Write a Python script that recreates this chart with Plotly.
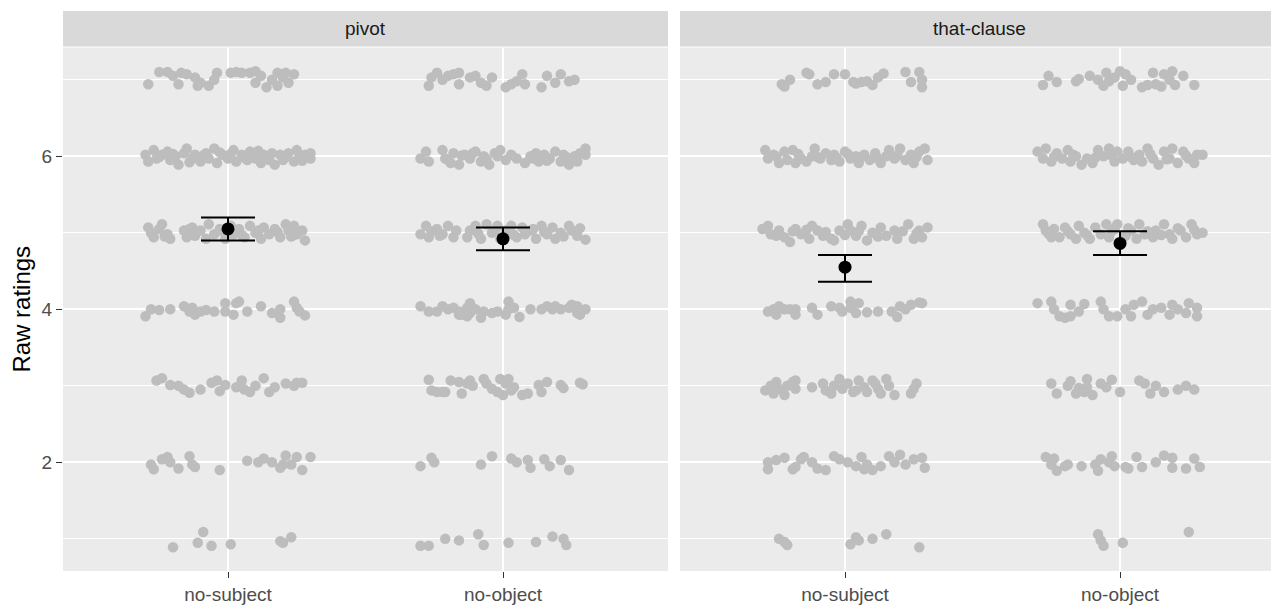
import plotly.graph_objects as go

# ---------------- data ----------------
FACETS = ["pivot", "that-clause"]
CONDITIONS = ["no-subject", "no-object"]

# jittered raw ratings; dx = horizontal jitter offset from category centre,
# y = jittered rating. Sub-lists are rating levels 7,6,5,4,3,2,1.
pivot_nosubj_dx = [
    [-0.29,-0.25,-0.22,-0.20,-0.17,-0.18,-0.15,-0.12,-0.11,-0.10,-0.07,-0.05,-0.04,0.01,0.03,0.05,0.08,0.10,0.10,0.12,0.14,0.16,0.18,0.18,0.20,0.21,0.22,0.24],
    [-0.30,-0.29,-0.27,-0.26,-0.24,-0.22,-0.21,-0.19,-0.18,-0.16,-0.15,-0.13,-0.12,-0.10,-0.08,-0.07,-0.05,-0.04,-0.02,0.00,0.02,0.03,0.05,0.07,0.08,0.10,0.12,0.13,0.15,0.17,0.19,0.20,0.22,0.24,0.25,0.26,0.28,0.30,0.30,-0.25,-0.20,-0.14,-0.09,-0.03,0.01,0.06,0.11,0.16,0.21,0.27],
    [-0.29,-0.28,-0.27,-0.25,-0.24,-0.22,-0.21,-0.16,-0.15,-0.13,-0.12,-0.10,-0.08,-0.07,-0.05,-0.03,-0.01,0.01,0.02,0.04,0.06,0.08,0.10,0.12,0.13,0.15,0.17,0.19,0.21,0.22,0.24,0.25,0.27,0.28,-0.23,-0.14,-0.02,0.05,0.11,0.18,0.23],
    [-0.30,-0.28,-0.25,-0.21,-0.16,-0.13,-0.12,-0.10,-0.08,-0.05,-0.01,-0.01,0.02,0.04,0.07,0.12,0.16,0.19,0.19,0.24,0.25,0.26,0.28,-0.14,0.03],
    [-0.26,-0.24,-0.21,-0.18,-0.16,-0.14,-0.10,-0.06,-0.04,-0.03,-0.01,0.03,0.05,0.06,0.08,0.10,0.13,0.15,0.17,0.21,0.24,0.25,0.27],
    [-0.28,-0.27,-0.24,-0.22,-0.21,-0.18,-0.14,-0.13,-0.12,-0.03,0.07,0.11,0.13,0.16,0.19,0.20,0.21,0.23,0.25,0.27,0.30],
    [-0.20,-0.11,-0.09,-0.06,0.01,0.19,0.20,0.23],
]
pivot_nosubj_y = [
    [6.94,7.10,7.10,7.05,7.09,6.94,7.07,7.03,6.92,6.96,6.92,7.00,7.09,7.09,7.10,7.09,7.09,7.11,6.96,7.05,6.90,7.00,7.09,6.92,7.03,7.09,6.96,7.07],
    [6.02,5.93,6.08,5.97,6.02,6.06,5.95,6.00,5.89,6.04,6.10,5.97,6.02,5.93,6.04,5.97,6.10,5.91,6.02,5.97,6.08,5.93,6.02,5.95,6.06,5.97,5.91,6.02,5.95,5.89,6.02,5.95,6.04,5.93,6.08,6.00,6.02,6.04,5.97,5.99,6.03,5.92,6.01,6.05,6.03,5.98,6.07,6.04,5.99,5.94],
    [5.07,5.00,4.94,5.05,5.11,4.98,4.92,5.03,4.94,5.07,4.96,5.03,4.92,5.11,4.98,5.05,4.92,5.09,4.98,5.05,4.94,5.09,5.00,4.92,5.07,4.98,5.05,4.94,5.11,5.03,5.09,4.98,5.03,4.90,4.95,5.05,5.02,4.97,5.03,5.01,4.95],
    [3.91,4.00,3.99,4.00,4.04,4.02,3.93,3.97,3.99,3.97,4.08,3.97,3.93,4.10,3.97,4.04,3.95,4.00,3.89,4.10,4.02,3.97,3.92,3.97,4.08],
    [3.07,3.10,3.01,3.00,2.95,2.91,2.95,3.04,3.07,2.93,3.01,2.98,3.07,2.95,2.92,3.00,3.10,2.92,2.98,3.03,3.00,3.04,3.04],
    [1.97,1.91,2.04,2.07,2.00,1.92,2.08,1.97,1.94,1.90,2.02,2.00,2.05,2.00,1.93,1.97,2.09,1.97,2.07,1.90,2.07],
    [0.89,0.95,1.09,0.91,0.93,0.97,0.95,1.02],
]

pivot_noobj_dx = [
    [-0.27,-0.26,-0.24,-0.22,-0.20,-0.18,-0.16,-0.16,-0.12,-0.10,-0.08,-0.06,-0.04,0.01,0.03,0.05,0.07,0.08,0.14,0.16,0.19,0.21,0.24,0.26],
    [-0.30,-0.28,-0.27,-0.22,-0.21,-0.19,-0.18,-0.16,-0.14,-0.12,-0.10,-0.08,-0.07,-0.05,-0.03,-0.01,0.01,0.03,0.05,0.08,0.10,0.12,0.13,0.15,0.17,0.19,0.21,0.22,0.24,0.26,0.28,0.30,0.30,-0.20,-0.15,-0.11,-0.06,-0.02,0.11,0.16,0.23,0.27],
    [-0.30,-0.28,-0.27,-0.24,-0.22,-0.20,-0.18,-0.17,-0.13,-0.12,-0.10,-0.08,-0.06,-0.04,-0.02,-0.01,0.01,0.03,0.05,0.07,0.08,0.10,0.12,0.14,0.16,0.18,0.19,0.21,0.24,0.25,0.27,0.30,-0.26,-0.23,-0.09,-0.03,0.04,0.11,0.15,0.22,0.28],
    [-0.30,-0.27,-0.24,-0.22,-0.20,-0.18,-0.16,-0.15,-0.13,-0.12,-0.12,-0.10,-0.08,-0.07,-0.04,-0.02,0.01,0.02,0.02,0.04,0.06,0.10,0.14,0.16,0.18,0.19,0.21,0.24,0.25,0.27,0.28,0.30,-0.16,-0.13,0.27],
    [-0.27,-0.26,-0.24,-0.22,-0.21,-0.19,-0.16,-0.15,-0.13,-0.12,-0.11,-0.07,-0.06,-0.04,-0.02,-0.01,0.00,0.01,0.02,0.03,0.04,0.07,0.09,0.13,0.14,0.16,0.21,0.22,0.28,0.29],
    [-0.30,-0.26,-0.25,-0.08,-0.04,0.03,0.05,0.09,0.10,0.15,0.17,0.21,0.24],
    [-0.30,-0.27,-0.21,-0.16,-0.09,-0.07,0.02,0.12,0.18,0.22,0.23],
]
pivot_noobj_y = [
    [6.92,7.03,7.09,7.00,7.05,7.07,7.09,6.94,7.03,7.05,6.96,6.92,7.03,6.90,6.94,6.98,7.07,6.94,6.90,7.05,6.96,7.07,6.98,7.00],
    [5.97,6.06,5.93,6.08,5.97,5.91,6.04,5.89,6.02,5.97,6.06,5.93,6.00,5.89,6.04,6.08,5.95,6.02,5.97,5.91,6.00,6.04,5.93,6.02,5.97,6.06,5.93,6.02,5.89,6.00,6.04,6.10,6.02,5.95,6.01,6.04,5.96,6.00,5.97,5.94,5.99,5.93],
    [4.98,5.09,4.94,5.05,4.98,5.09,4.94,5.03,4.94,5.03,5.09,4.92,5.11,5.00,5.09,4.92,5.03,5.09,4.94,5.07,4.98,5.03,4.92,5.09,4.98,5.07,4.92,5.00,5.09,5.03,4.96,4.91,5.02,4.96,4.99,5.03,4.97,5.05,5.01,4.95,5.06],
    [4.04,3.97,3.97,4.04,4.00,4.02,3.97,3.93,4.02,3.95,4.08,4.00,3.89,3.97,3.95,3.97,3.93,4.10,4.00,4.02,3.90,4.00,4.00,4.04,4.00,4.04,4.00,4.02,4.06,4.04,3.93,4.00,3.93,3.91,3.95],
    [3.08,2.94,2.92,2.92,2.92,3.07,3.05,2.90,3.03,3.07,3.00,3.09,3.03,2.96,2.92,3.09,2.88,3.03,3.09,2.94,2.98,2.88,2.90,3.01,2.92,3.05,3.01,2.97,3.04,3.02],
    [1.95,2.06,2.00,1.97,2.08,2.05,2.00,2.03,1.93,2.04,1.95,2.03,1.90],
    [0.91,0.91,1.00,0.98,1.06,0.92,0.95,0.96,1.03,1.00,0.92],
]

that_nosubj_dx = [
    [-0.23,-0.22,-0.20,-0.14,-0.13,-0.10,-0.07,-0.04,0.00,0.03,0.04,0.06,0.08,0.10,0.12,0.14,0.22,0.24,0.27,0.28,0.28],
    [-0.29,-0.28,-0.26,-0.24,-0.22,-0.21,-0.19,-0.18,-0.16,-0.14,-0.12,-0.11,-0.09,-0.07,-0.05,-0.04,-0.02,0.00,0.02,0.04,0.05,0.07,0.09,0.11,0.13,0.15,0.16,0.18,0.20,0.22,0.24,0.25,0.27,0.29,0.30,-0.25,-0.17,-0.10,-0.03,0.01,0.06,0.12,0.19,0.26],
    [-0.30,-0.28,-0.27,-0.24,-0.22,-0.20,-0.18,-0.16,-0.13,-0.12,-0.10,-0.08,-0.05,-0.04,-0.02,0.01,0.02,0.04,0.06,0.08,0.10,0.13,0.15,0.18,0.19,0.23,0.25,0.27,0.28,0.30,-0.25,-0.19,-0.14,-0.07,0.00,0.05,0.12,0.21,0.26],
    [-0.28,-0.26,-0.24,-0.25,-0.22,-0.20,-0.18,-0.18,-0.12,-0.10,-0.05,-0.02,-0.01,0.02,0.02,0.04,0.05,0.08,0.12,0.17,0.19,0.20,0.22,0.24,0.27,0.28],
    [-0.29,-0.27,-0.26,-0.25,-0.24,-0.22,-0.21,-0.19,-0.18,-0.18,-0.12,-0.08,-0.07,-0.05,-0.04,-0.02,-0.01,0.01,0.03,0.04,0.05,0.07,0.08,0.10,0.11,0.12,0.13,0.15,0.16,0.18,0.24,0.25,0.26],
    [-0.28,-0.28,-0.25,-0.22,-0.19,-0.18,-0.16,-0.15,-0.12,-0.10,-0.07,-0.04,-0.02,0.01,0.04,0.06,0.07,0.08,0.10,0.13,0.16,0.18,0.20,0.22,0.25,0.28,0.29],
    [-0.24,-0.22,-0.21,0.02,0.04,0.05,0.10,0.15,0.27],
]
that_nosubj_y = [
    [6.94,6.91,7.00,7.09,7.07,6.94,6.97,7.07,7.07,6.97,6.95,6.97,6.98,6.93,7.03,7.08,7.10,6.97,7.10,6.90,7.00],
    [6.08,5.97,6.02,5.91,6.06,5.95,6.08,5.91,5.97,5.93,6.00,6.10,5.97,6.04,5.95,6.02,5.93,6.06,5.97,6.00,5.91,6.02,5.95,6.04,5.91,6.00,6.08,5.97,6.10,5.95,6.02,5.91,6.06,6.10,5.95,6.00,6.03,5.99,5.98,6.03,5.99,5.97,6.01,5.99],
    [5.05,5.09,4.98,5.03,4.94,4.88,5.05,4.98,4.92,5.09,5.03,4.96,4.92,4.90,5.03,5.11,5.03,4.96,5.09,4.90,5.00,5.07,4.96,5.03,4.92,5.11,4.92,5.03,4.94,5.07,4.96,5.02,5.04,5.01,4.97,5.02,4.95,5.02,4.99],
    [3.97,4.00,4.04,3.93,4.00,4.00,3.93,4.00,4.02,3.93,4.04,4.02,3.97,4.10,4.02,3.95,4.08,3.96,3.97,3.97,3.90,4.04,4.00,4.06,4.09,4.08],
    [2.94,3.00,2.90,3.05,2.96,2.88,3.00,3.05,2.96,3.07,2.98,3.03,2.94,2.90,3.00,3.09,2.96,3.03,2.92,2.94,3.07,2.98,2.92,3.07,3.03,2.96,2.90,3.09,3.00,2.88,2.90,2.96,3.03],
    [1.91,2.00,2.03,2.06,1.91,1.94,2.04,2.07,2.00,1.92,1.90,2.08,2.04,2.00,1.95,2.07,1.91,1.97,1.90,1.95,2.08,2.00,2.10,1.97,2.04,2.06,1.93],
    [1.00,0.96,0.92,0.93,1.02,0.98,1.00,1.06,0.89],
]

that_noobj_dx = [
    [-0.28,-0.26,-0.23,-0.16,-0.15,-0.11,-0.08,-0.06,-0.05,-0.04,-0.02,0.00,0.01,0.02,0.04,0.08,0.10,0.12,0.13,0.15,0.16,0.18,0.19,0.20,0.23,0.27],
    [-0.30,-0.28,-0.27,-0.25,-0.23,-0.21,-0.19,-0.18,-0.16,-0.14,-0.12,-0.10,-0.08,-0.06,-0.04,-0.02,-0.01,0.01,0.03,0.05,0.07,0.08,0.10,0.12,0.14,0.16,0.18,0.19,0.21,0.23,0.25,0.27,0.28,0.30,-0.24,-0.17,-0.09,-0.03,0.04,0.11,0.17,0.24],
    [-0.28,-0.27,-0.25,-0.24,-0.22,-0.20,-0.18,-0.16,-0.15,-0.13,-0.11,-0.09,-0.07,-0.05,-0.04,-0.02,-0.01,0.02,0.04,0.06,0.07,0.09,0.12,0.13,0.16,0.18,0.19,0.22,0.24,0.26,0.28,0.30,-0.26,-0.19,-0.12,-0.03,0.03,0.10,0.15,0.21,0.27],
    [-0.30,-0.25,-0.24,-0.22,-0.20,-0.18,-0.18,-0.15,-0.13,-0.07,-0.06,-0.04,-0.01,0.02,0.04,0.05,0.08,0.10,0.12,0.15,0.18,0.19,0.21,0.24,0.25,0.28,0.28],
    [-0.25,-0.23,-0.19,-0.18,-0.16,-0.15,-0.13,-0.12,-0.12,-0.10,-0.07,-0.05,-0.03,0.00,0.07,0.09,0.11,0.13,0.16,0.21,0.24,0.27],
    [-0.27,-0.24,-0.25,-0.23,-0.20,-0.19,-0.14,-0.09,-0.08,-0.07,-0.04,-0.03,-0.02,0.02,0.03,0.06,0.08,0.13,0.16,0.19,0.19,0.24,0.27,0.29],
    [-0.08,-0.07,-0.06,0.01,0.25],
]
that_noobj_y = [
    [6.93,7.05,6.97,6.98,7.01,7.05,7.00,6.92,7.09,6.98,7.03,7.11,6.92,7.07,7.00,6.90,6.93,7.09,6.94,6.91,7.07,7.00,7.11,6.93,7.05,6.93],
    [6.06,5.97,6.10,5.93,6.04,5.97,6.08,5.93,6.00,5.89,5.97,5.91,6.08,6.00,6.10,5.93,6.06,5.97,6.06,5.95,6.02,5.93,6.10,5.97,5.89,6.06,5.97,6.10,5.91,6.06,5.97,5.91,6.02,6.02,5.99,6.02,5.98,6.01,5.99,6.03,5.96,6.01],
    [5.11,5.03,4.94,5.05,4.94,5.07,4.98,4.92,5.09,5.00,4.92,5.07,4.98,5.11,4.94,5.05,5.11,4.96,5.03,4.92,5.11,4.98,4.94,5.03,5.11,4.98,4.92,5.03,4.94,5.11,4.98,5.00,4.99,5.02,4.97,5.02,5.06,5.02,4.97,5.06,5.04],
    [4.08,4.10,4.00,3.91,3.89,4.06,3.91,3.97,4.07,4.10,4.00,3.91,3.91,4.00,3.91,4.06,4.10,3.93,4.00,4.02,3.93,4.06,4.00,3.95,4.08,4.02,3.91],
    [3.03,2.90,3.00,3.06,2.90,2.97,2.92,3.09,2.98,2.88,3.03,2.98,3.08,2.92,3.07,3.03,2.90,3.00,2.92,2.95,3.00,2.95],
    [2.07,2.05,1.97,1.89,1.95,1.97,1.95,1.97,1.89,2.04,2.00,2.08,1.95,1.94,1.92,2.07,1.94,2.00,2.09,2.06,1.93,1.92,2.05,1.94],
    [1.06,0.98,0.91,0.95,1.09],
]

# condition means with confidence-interval bounds
pivot_mean = [5.05, 4.92]
pivot_upper = [5.20, 5.07]
pivot_lower = [4.90, 4.77]
that_mean = [4.55, 4.86]
that_upper = [4.71, 5.02]
that_lower = [4.36, 4.71]

Y_TICKS = [2, 4, 6]
Y_MINOR = [1, 3, 5, 7]

# ---------------- figure ----------------
FONT = "Liberation Sans, Arial, sans-serif"
POINT_COLOR = "#BDBDBD"

fig = go.Figure()

panels = [
    ("x", [(pivot_nosubj_dx, pivot_nosubj_y), (pivot_noobj_dx, pivot_noobj_y)],
     pivot_mean, pivot_upper, pivot_lower),
    ("x2", [(that_nosubj_dx, that_nosubj_y), (that_noobj_dx, that_noobj_y)],
     that_mean, that_upper, that_lower),
]

for xref, conds, means, upp, low in panels:
    for ci, (dx_levels, y_levels) in enumerate(conds):
        xs, ys = [], []
        for dxl, yl in zip(dx_levels, y_levels):
            for d, v in zip(dxl, yl):
                xs.append(ci + 1 + d)
                ys.append(v)
        fig.add_trace(go.Scatter(
            x=xs, y=ys, xaxis=xref, yaxis="y", mode="markers",
            marker=dict(color=POINT_COLOR, size=10.5, line=dict(width=0)),
            showlegend=False, hoverinfo="skip"))
    fig.add_trace(go.Scatter(
        x=[1, 2], y=means, xaxis=xref, yaxis="y", mode="markers",
        marker=dict(color="black", size=13),
        error_y=dict(type="data", symmetric=False,
                     array=[u - m for u, m in zip(upp, means)],
                     arrayminus=[m - l for m, l in zip(means, low)],
                     color="black", thickness=2, width=27),
        showlegend=False))

# figure is 1271x597; the page's 8px body margin places it at (8, 8)
W, H = 1271, 597
M_L, M_R, M_T, M_B = 55, 0, 3, 27
plot_h = H - M_T - M_B           # 567
PANEL_TOP = 530 / plot_h
STRIP_Y0 = 531 / plot_h
left_w = 605 / (W - M_L - M_R)
right_x0 = 617 / (W - M_L - M_R)

shapes = []
annotations = []
for xr, title in zip(["x", "x2"], FACETS):
    shapes.append(dict(type="rect", xref=f"{xr} domain", yref="y domain",
                       x0=0, x1=1, y0=0, y1=1, fillcolor="#EBEBEB",
                       line=dict(width=0), layer="below"))
    shapes.append(dict(type="rect", xref=f"{xr} domain", yref="paper",
                       x0=0, x1=1, y0=STRIP_Y0, y1=1, fillcolor="#D9D9D9",
                       line=dict(width=0), layer="below"))
    annotations.append(dict(text=title, xref=f"{xr} domain", yref="paper",
                            x=0.5, y=(STRIP_Y0 + 1) / 2, showarrow=False,
                            xanchor="center", yanchor="middle",
                            font=dict(family=FONT, size=19, color="#1A1A1A")))

xaxis_common = dict(
    tickmode="array", tickvals=[1, 2], ticktext=CONDITIONS,
    showgrid=True, gridcolor="white", gridwidth=1.6,
    zeroline=False, showline=False,
    ticks="outside", ticklen=6, tickwidth=1.3, tickcolor="#333333",
    tickfont=dict(family=FONT, size=19, color="#4D4D4D"),
    anchor="y",
)

fig.update_layout(
    width=W, height=H,
    margin=dict(l=M_L, r=M_R, t=M_T, b=M_B),
    paper_bgcolor="white", plot_bgcolor="white",
    showlegend=False,
    shapes=shapes, annotations=annotations,
    xaxis=dict(domain=[0, left_w], range=[0.4, 2.6], **xaxis_common),
    xaxis2=dict(domain=[right_x0, 1], range=[0.4, 2.578], **xaxis_common),
    yaxis=dict(
        domain=[0, PANEL_TOP], range=[0.58, 7.42],
        tickmode="array", tickvals=Y_TICKS, ticktext=[str(t) for t in Y_TICKS],
        showgrid=True, gridcolor="white", gridwidth=1.6,
        minor=dict(tickvals=Y_MINOR, showgrid=True, gridcolor="white",
                   gridwidth=0.8, ticks=""),
        zeroline=False, showline=False,
        ticks="outside", ticklen=6, tickwidth=1.3, tickcolor="#333333",
        tickfont=dict(family=FONT, size=19, color="#4D4D4D"),
        title=dict(text="Raw ratings", font=dict(family=FONT, size=24, color="black"),
                   standoff=8),
    ),
)

fig.write_html("out.html")
